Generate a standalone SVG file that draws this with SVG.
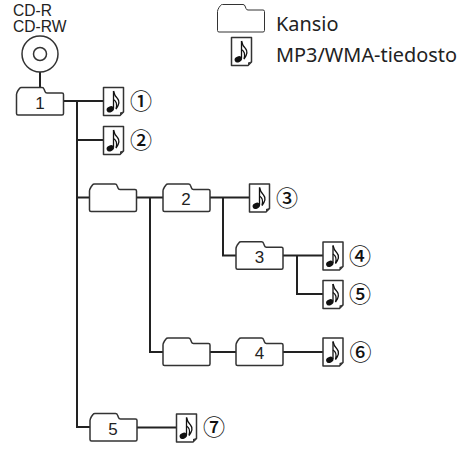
<svg xmlns="http://www.w3.org/2000/svg" width="476" height="455" viewBox="0 0 476 455">
<style>
.f{fill:#fff;stroke:#333;stroke-width:1.5;stroke-linejoin:round}
.c{fill:none;stroke:#222;stroke-width:2}
.n{font:17px "Liberation Sans",Arial,sans-serif;fill:#222;text-anchor:middle}
.m{font:15.600px "Liberation Sans",Arial,sans-serif;fill:#222}
.l{font:19.900px "Noto Sans",sans-serif;fill:#222}
.o{font:500 22px "Noto Sans CJK JP",sans-serif;fill:#111;text-anchor:middle}
</style>
<defs>
<g id="folder"><path d="M0 26V7Q0 5.500 1.500 3L3 1Q3.500 0 5 0H25.500Q27 0 27.500 1.500L28.500 4Q29 5.500 30.500 5.500H45.500Q47 5.500 47 7V26Q47 27.500 45.500 27.500H1.500Q0 27.500 0 26Z"/></g>
<g id="file">
<path class="f" d="M0.500 0.500H20.500V25L17 28.500H0.500Z"/>
<path d="M20.500 24.500L17 28.500V25.500Z" fill="#333"/>
<path d="M10.500 4V21.500" fill="none" stroke="#111" stroke-width="1.300"/>
<path d="M10.500 4Q11.500 9 14.500 11.500Q18 15.500 13 22Q15 15 10.500 12.500" fill="none" stroke="#111" stroke-width="1.300"/>
<ellipse cx="7.300" cy="22.300" rx="3.800" ry="2.900" transform="rotate(-25 7.300 22.300)" fill="#111"/>
</g>
</defs>
<g id="connectors" class="c">
<path d="M40 72V88"/>
<path d="M63 101H103M77 101V427H90M77 140H103M77 197.500H89M137 197.500H163M150 197.500V352H163M210 197.500H249M223 197.500V255.500H236M283 255.500H323M297 255.500V294H323M210 352H236M283 352H323M137 427.500H176"/>
</g>
<g id="disc"><text class="m" x="13" y="15.500">CD-R</text><text class="m" x="13" y="32">CD-RW</text><circle cx="40" cy="54" r="18" fill="#fff" stroke="#333" stroke-width="1.500"/><circle cx="40" cy="54" r="6.500" fill="#fff" stroke="#333" stroke-width="1.500"/></g>
<g id="legend-folder"><use href="#folder" x="217.500" y="4.500" fill="#fff" stroke="#333" stroke-width="1"/><text class="l" x="276" y="31">Kansio</text></g>
<g id="legend-file"><use href="#file" x="231" y="37"/><text class="l" x="276" y="61.500">MP3/WMA-tiedosto</text></g>
<g id="folder-1" class="f"><use href="#folder" x="16.500" y="87.500"/><text class="n" x="40" y="108.500" stroke="none">1</text></g>
<g id="file-1"><use href="#file" x="103" y="87"/><text class="o" x="141" y="109">①</text></g>
<g id="file-2"><use href="#file" x="103" y="126"/><text class="o" x="141" y="148">②</text></g>
<g id="folder-a" class="f"><use href="#folder" x="89.500" y="184"/></g>
<g id="folder-2" class="f"><use href="#folder" x="163" y="184"/><text class="n" x="186" y="205" stroke="none">2</text></g>
<g id="file-3"><use href="#file" x="249" y="183.500"/><text class="o" x="287" y="206">③</text></g>
<g id="folder-3" class="f"><use href="#folder" x="236" y="241.700"/><text class="n" x="259.500" y="263" stroke="none">3</text></g>
<g id="file-4"><use href="#file" x="322.500" y="241.500"/><text class="o" x="360" y="264">④</text></g>
<g id="file-5"><use href="#file" x="322.500" y="280"/><text class="o" x="360" y="302">⑤</text></g>
<g id="folder-b" class="f"><use href="#folder" x="163" y="338"/></g>
<g id="folder-4" class="f"><use href="#folder" x="236" y="338"/><text class="n" x="259.500" y="359" stroke="none">4</text></g>
<g id="file-6"><use href="#file" x="322.500" y="337.500"/><text class="o" x="360.500" y="360">⑥</text></g>
<g id="folder-5" class="f"><use href="#folder" x="90" y="413.500"/><text class="n" x="113" y="434.500" stroke="none">5</text></g>
<g id="file-7"><use href="#file" x="176" y="413.500"/><text class="o" x="214" y="435">⑦</text></g>
</svg>
